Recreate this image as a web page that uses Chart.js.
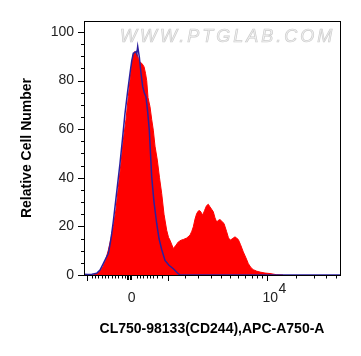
<!DOCTYPE html>
<html>
<head>
<meta charset="utf-8">
<script src="https://cdn.jsdelivr.net/npm/chart.js@4.4.1/dist/chart.umd.min.js"></script>
<style>
  html, body { margin: 0; padding: 0; background: #fff; }
</style>
</head>
<body>
<canvas id="histChart" width="361" height="356"></canvas>
<script>
// x values are display channels (0..256 across the plot), y is % of max
const redX = [9, 13, 16, 19, 21.5, 24.3, 27, 29.3, 32, 34.3, 37, 39.3, 42, 44.3, 46, 47.7, 49, 50.5, 52.7, 54.5,
  56, 58, 60, 61.5, 62.7, 64, 66, 67.7, 69.3, 71, 73.3, 75.5, 77.7, 80, 82.7, 84.5, 86, 89.3, 91.5, 94.3,
  97, 99.3, 102.7, 106, 107.8, 109.3, 111, 112.7, 114.5, 116, 117.5, 118.7, 120.5, 122.5, 124.3, 126, 127.7, 129.3, 131, 132.7,
  134.3, 136, 138, 140, 142.5, 144.3, 146, 148, 151, 154.3, 156.5, 159.3, 162, 164.3, 167, 169.3, 172.5, 176, 181, 186,
  192.7, 199];
const redY = [0, 0.5, 1.5, 3.5, 6, 10.2, 15, 19.8, 27, 36, 46, 55.5, 64, 73.4, 80, 87, 90.5, 91.9, 91.2, 89,
  87.5, 87, 85.7, 83, 80, 73, 69.2, 64, 59.6, 53, 47.3, 40, 33.5, 25, 18.4, 15.5, 14.3, 10.9, 12, 13.6,
  14.3, 14.6, 15.2, 16.4, 18, 19.8, 23, 25.3, 26.4, 26.4, 25.5, 24.6, 26.5, 28.5, 29.1, 28, 27, 26, 23.5, 21.8,
  22.5, 22.8, 22, 21.2, 18, 15.5, 14.3, 14.8, 15.7, 14.6, 12.5, 9.5, 7, 4.7, 3, 2.2, 1.6, 1.2, 0.8, 0.6,
  0.1, 0];

const blueX = [0, 4, 8, 12.7, 16, 19.3, 22, 24.3, 26, 27.7, 29.3, 31, 33.5, 36, 38.5, 41, 43.5, 46, 47.7, 49.3,
  50.5, 52, 52.8, 53.7, 55.3, 57, 58.7, 60.3, 62, 63.7, 65.3, 66.5, 67.7, 70, 72.7, 75, 77.7, 81, 85, 89.3,
  93, 96, 256];
const blueY = [0.3, 0.2, 0.3, 0.7, 2, 4.7, 7, 8.8, 12.5, 17, 22, 28, 37, 45.9, 56, 66.5, 75, 83, 88, 91.2,
  91.5, 91.9, 91, 94, 89.8, 83, 77.5, 75, 73.3, 67, 59.6, 50, 40.4, 30, 21.2, 15, 10.5, 6, 4, 2.6,
  1, 0, 0];

const yTickValues = [0, 20, 40, 60, 80, 100];
const yTickLabels = ['0', '20', '40', '60', '80', '100'];
const yMinorTicks = [5, 10, 15, 25, 30, 35, 45, 50, 55, 65, 70, 75, 85, 90, 95];

const xMajorTicks = [3, 83.5, 182.5];
const xZeroTicks = [42.5, 44, 45.5, 47];
const xMinorTicks = [7.7, 11, 14.3, 17.7, 21, 24.3, 27.7, 31, 34.3, 37.7, 41, 52.7, 56, 59.3, 62.7, 66, 69.3, 73.3, 77.7,
  101, 114, 127, 137, 146, 153.5, 161, 167.5, 172.5, 177.5, 212.3, 229.7, 242.1, 251.7];
const xTickLabels = [
  { value: 47.7, base: '0', exp: '' },
  { value: 182.5, base: '10', exp: '4' }
];

const xTitle = 'CL750-98133(CD244),APC-A750-A';
const yTitle = 'Relative Cell Number';
const watermark = 'WWW.PTGLAB.COM';
const fontFamily = '"Liberation Sans", Arial, sans-serif';

const toPoints = (xs, ys) => xs.map((x, i) => ({ x: x, y: ys[i] }));

const framePlugin = {
  id: 'frame',
  beforeDatasetsDraw(chart) {
    const { ctx } = chart;
    ctx.save();
    ctx.font = 'italic 18px ' + fontFamily;
    ctx.letterSpacing = '3px';
    ctx.textAlign = 'left';
    ctx.textBaseline = 'alphabetic';
    ctx.fillStyle = '#f3f3f3';
    ctx.strokeStyle = '#cdcdcd';
    ctx.lineWidth = 0.7;
    ctx.fillText(watermark, 120, 42);
    ctx.strokeText(watermark, 120, 42);
    ctx.restore();
  },
  afterDraw(chart) {
    const { ctx, chartArea: a, scales: { x, y } } = chart;
    ctx.save();
    ctx.strokeStyle = '#000';
    ctx.lineWidth = 1;
    ctx.strokeRect(a.left + 0.5, a.top + 0.5, a.right - a.left, a.bottom - a.top);

    ctx.beginPath();
    const xTick = (v, len) => {
      const px = Math.round(x.getPixelForValue(v)) + 0.5;
      ctx.moveTo(px, a.bottom);
      ctx.lineTo(px, a.bottom + len);
    };
    const yTick = (v, len) => {
      const py = Math.round(y.getPixelForValue(v)) + 0.5;
      ctx.moveTo(a.left, py);
      ctx.lineTo(a.left - len, py);
    };
    xMajorTicks.forEach(v => xTick(v, 6));
    xZeroTicks.forEach(v => xTick(v, 5));
    xMinorTicks.forEach(v => xTick(v, 3.5));
    yTickValues.forEach(v => yTick(v, 6));
    yMinorTicks.forEach(v => yTick(v, 3));
    ctx.stroke();

    // x tick labels, with the exponent raised
    ctx.fillStyle = '#222';
    ctx.font = '14px ' + fontFamily;
    ctx.textBaseline = 'middle';
    xTickLabels.forEach(t => {
      const px = x.getPixelForValue(t.value);
      if (!t.exp) {
        ctx.textAlign = 'center';
        ctx.fillText(t.base, px, 298);
      } else {
        ctx.textAlign = 'right';
        ctx.fillText(t.base, px + 11.5, 298);
        ctx.textAlign = 'left';
        ctx.fillText(t.exp, px + 12, 289);
      }
    });
    ctx.restore();
  }
};

new Chart(document.getElementById('histChart'), {
  type: 'line',
  data: {
    datasets: [
      {
        data: toPoints(blueX, blueY),
        borderColor: '#2c1f9e',
        borderWidth: 1.5,
        fill: false,
        pointRadius: 0,
        tension: 0
      },
      {
        data: toPoints(redX, redY),
        borderColor: '#ff0000',
        backgroundColor: '#ff0000',
        borderWidth: 1,
        fill: 'origin',
        pointRadius: 0,
        tension: 0
      }
    ]
  },
  options: {
    responsive: false,
    animation: false,
    layout: { padding: { top: 21, right: 21, left: 0, bottom: 0 } },
    plugins: { legend: { display: false }, tooltip: { enabled: false } },
    scales: {
      x: {
        type: 'linear',
        min: 0,
        max: 256,
        afterFit: s => { s.height = 81; },
        afterBuildTicks: s => { s.ticks = xMajorTicks.map(v => ({ value: v })); },
        grid: { display: false },
        border: { display: false },
        ticks: { display: false },
        title: {
          display: true,
          text: xTitle,
          color: '#000',
          font: { family: fontFamily, size: 14, weight: 'bold' },
          padding: { top: 0, bottom: 18 }
        }
      },
      y: {
        type: 'linear',
        min: 0,
        max: 104.5,
        afterFit: s => { s.width = 84; },
        afterBuildTicks: s => { s.ticks = yTickValues.map(v => ({ value: v })); },
        grid: { display: false, drawTicks: true, tickLength: 6 },
        border: { display: false },
        ticks: {
          padding: 4,
          color: '#222',
          font: { family: fontFamily, size: 14 },
          callback: (v, i) => yTickLabels[i]
        },
        title: {
          display: true,
          text: yTitle,
          color: '#000',
          font: { family: fontFamily, size: 14, weight: 'bold' },
          padding: { top: 18.6, bottom: 0 }
        }
      }
    }
  },
  plugins: [framePlugin]
});
</script>
</body>
</html>
